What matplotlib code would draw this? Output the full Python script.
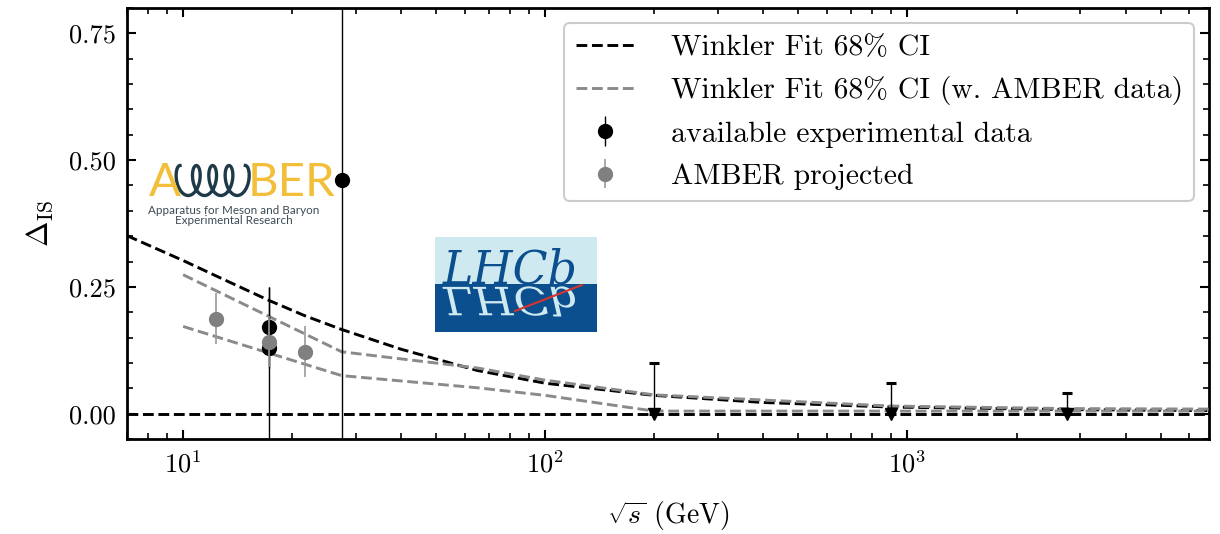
import numpy as np
import matplotlib
matplotlib.use("Agg")
import matplotlib.pyplot as plt
from matplotlib.ticker import MultipleLocator
from matplotlib.textpath import TextPath
from matplotlib.patches import PathPatch, Rectangle
from matplotlib.font_manager import FontProperties
from matplotlib.lines import Line2D
import matplotlib.transforms as mtransforms

# ================= 数据 =================
# Winkler fit 68% CI (upper / lower bound)
fit_x = [7, 10, 12.3, 17.3, 21.7, 27.4, 40, 65, 100, 200, 400, 900, 2760, 6800]
fit_hi = [0.351, 0.302, 0.272, 0.223, 0.193, 0.166, 0.127, 0.085, 0.060, 0.036, 0.022, 0.013, 0.008, 0.006]
fit_lo = [0, 0, 0, 0, 0, 0, 0, 0, 0, 0, 0, 0, 0, 0]

# Winkler fit 68% CI with AMBER data
amb_fit_x = [10, 27.4, 65, 100, 200, 900, 2760, 6800]
amb_fit_hi = [0.274, 0.122, 0.090, 0.066, 0.037, 0.015, 0.010, 0.009]
amb_fit_lo = [0.172, 0.075, 0.051, 0.036, 0.005, 0.005, 0.005, 0.005]

# available experimental data
exp_x = [17.3, 17.3, 27.4]
exp_y = [0.17, 0.13, 0.46]
exp_err_lo = [0.08, 0.20, 0.60]
exp_err_hi = [0.08, 0.12, 0.60]

# upper limits
lim_x = [200, 900, 2760]
lim_y = [0, 0, 0]
lim_hi = [0.10, 0.06, 0.04]

# AMBER projected
amber_x = [12.3, 17.3, 21.7]
amber_y = [0.187, 0.142, 0.122]
amber_err = [0.05, 0.05, 0.05]

y_ticks = [0.00, 0.25, 0.50, 0.75]

# ================= 样式 =================
plt.rcParams['font.family'] = 'serif'
plt.rcParams['font.serif'] = ['cmr10']
plt.rcParams['mathtext.fontset'] = 'cm'
plt.rcParams['axes.formatter.use_mathtext'] = True
plt.rcParams['axes.unicode_minus'] = False

W, H, DPI = 1220, 534, 100
fig = plt.figure(figsize=(W / DPI, H / DPI), dpi=DPI)
ax = fig.add_axes([127 / W, 1 - 439 / H, (1209 - 127) / W, (439 - 8) / H])

lw_dash = 2.1
grey_line = '#8a8a8a'
ax.plot(fit_x, fit_hi, color='black', ls='--', lw=lw_dash, zorder=3)
ax.plot(fit_x, fit_lo, color='black', ls='--', lw=lw_dash, zorder=3)
ax.plot(amb_fit_x, amb_fit_hi, color=grey_line, ls='--', lw=lw_dash, zorder=3)
ax.plot(amb_fit_x, amb_fit_lo, color=grey_line, ls='--', lw=lw_dash, zorder=3)

ax.errorbar(exp_x, exp_y, yerr=[exp_err_lo, exp_err_hi], fmt='o', color='black',
            ms=10, elinewidth=1.0, capsize=0, zorder=4)
ax.errorbar(lim_x, lim_y, yerr=[[0, 0, 0], lim_hi], fmt='v', color='black',
            ms=9, elinewidth=1.0, capsize=3.8, capthick=2.2, zorder=4)
ax.errorbar(amber_x, amber_y, yerr=amber_err, fmt='o', color='#808080',
            ecolor='#9a9a9a', ms=10, elinewidth=1.2, capsize=0, zorder=5)

ax.set_xscale('log')
ax.set_xlim(7, 6800)
ax.set_ylim(-0.05, 0.80)
ax.set_yticks(y_ticks)
ax.yaxis.set_minor_locator(MultipleLocator(0.05))
ax.set_yticklabels([f"{v:.2f}" for v in y_ticks])

ax.tick_params(which='both', direction='in', top=True, right=True, labelsize=19)
ax.tick_params(which='major', length=6.5, width=1.5, pad=8)
ax.tick_params(which='minor', length=4.3, width=1.2)
for sp in ax.spines.values():
    sp.set_linewidth(2.0)

ax.set_xlabel(r'$\sqrt{s}$ (GeV)', fontsize=20, labelpad=16)
ax.set_ylabel(r'$\Delta_{\mathrm{IS}}$', fontsize=22, labelpad=10)

# 图例
handles = [
    Line2D([], [], color='black', ls='--', lw=lw_dash),
    Line2D([], [], color=grey_line, ls='--', lw=lw_dash),
    ax.errorbar([], [], yerr=[], fmt='o', color='black', ms=10, elinewidth=1.0),
    ax.errorbar([], [], yerr=[], fmt='o', color='#808080', ecolor='#9a9a9a',
                ms=10, elinewidth=1.2),
]
labels = ['Winkler Fit 68% CI', 'Winkler Fit 68% CI (w. AMBER data)',
          'available experimental data', 'AMBER projected']
leg = ax.legend(handles, labels, loc='upper right', fontsize=21.4, frameon=True,
                fancybox=True, framealpha=1, edgecolor='#cccccc',
                handlelength=2.0, handletextpad=1.2, borderpad=0.38,
                borderaxespad=0.5, labelspacing=0.52)
leg.get_frame().set_linewidth(1.5)

# ================= AMBER 标志 =================
lx0, ly0, lx1, ly1 = 145, 156, 322, 232
amb = fig.add_axes([lx0 / W, 1 - ly1 / H, (lx1 - lx0) / W, (ly1 - ly0) / H])
amb.set_xlim(lx0, lx1)
amb.set_ylim(ly1, ly0)
amb.axis('off')
yellow = '#F2BF3A'
dark = '#1E3A48'
amb.text(149, 196, 'A', color=yellow, fontsize=34, family='Lato',
         va='baseline', ha='left')
amb.text(248, 196, 'BER', color=yellow, fontsize=34, family='Lato',
         va='baseline', ha='left')
t = np.linspace(0, 4 * 2 * np.pi, 500)
coil_x = 180 + 2.6 * t - 7.5 * np.sin(t)
coil_y = 180.5 - 15 * np.cos(t)
amb.plot(coil_x, coil_y, color=dark, lw=2.4)
amb.text(234, 210, 'Apparatus for Meson and Baryon', color='#3C4A54',
         fontsize=8.4, family='Lato', ha='center', va='center')
amb.text(234, 221, 'Experimental Research', color='#3C4A54',
         fontsize=8.4, family='Lato', ha='center', va='center')

# ================= LHCb 标志 =================
bx0, by0, bx1, by1 = 435, 237, 597, 332
lhcb = fig.add_axes([bx0 / W, 1 - by1 / H, (bx1 - bx0) / W, (by1 - by0) / H])
lhcb.set_xlim(0, 1)
lhcb.set_ylim(0, 1)
lhcb.axis('off')
split = 0.505
lhcb.add_patch(Rectangle((0, split), 1, 1 - split, color='#CFE9F1', lw=0))
lhcb.add_patch(Rectangle((0, 0), 1, split, color='#0B4F8F', lw=0))
fp = FontProperties(family='DejaVu Serif', style='italic')
lhcb.text(0.05, split + 0.01, 'LHCb', fontproperties=fp, fontsize=33,
          color='#0B4F8F', va='baseline', ha='left')
tp = TextPath((0, 0), 'LHCb', size=33, prop=fp)
k = DPI / 72.0
tr = mtransforms.Affine2D().scale(k, -k * 0.85) + \
    mtransforms.ScaledTranslation(0.05, split - 0.03, lhcb.transAxes)
lhcb.add_patch(PathPatch(tp, transform=tr, color='#CFE9F1', lw=0))
lhcb.plot([0.494, 0.907], [0.221, 0.495], color='#D9342B', lw=1.5)

fig.savefig('out.png', dpi=DPI)
